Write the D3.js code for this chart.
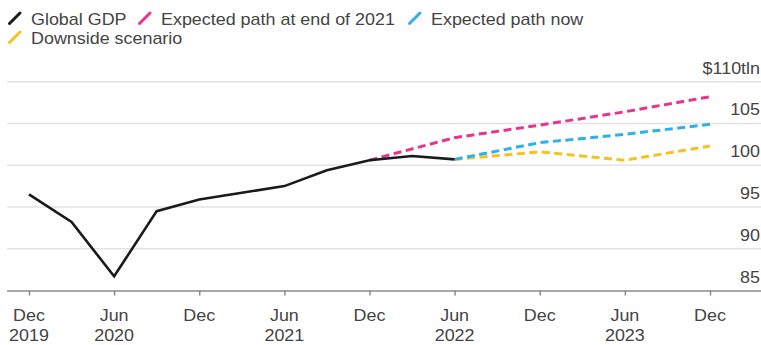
<!DOCTYPE html>
<html>
<head>
<meta charset="utf-8">
<script src="https://cdn.jsdelivr.net/npm/d3@7"></script>
<style>
  html, body { margin: 0; padding: 0; background: #fff; }
  svg { display: block; font-family: "Liberation Sans", Arial, sans-serif; }
</style>
</head>
<body>
<svg id="chart" width="761" height="345"></svg>
<script>
// Quarter index 0 = Dec 2019
const gdpQuarters = [0, 1, 2, 3, 4, 5, 6, 7, 8, 9, 10];
const gdpValues = [96.5, 93.2, 86.7, 94.5, 95.9, 96.7, 97.5, 99.4, 100.6, 101.1, 100.7];

const endOf2021Quarters = [8, 10, 12, 14, 16];
const endOf2021Values = [100.6, 103.3, 104.8, 106.4, 108.2];

const nowQuarters = [10, 12, 14, 16];
const nowValues = [100.7, 102.7, 103.7, 104.9];

const downsideQuarters = [10, 12, 14, 16];
const downsideValues = [100.7, 101.6, 100.6, 102.3];

const tickQuarters = [0, 2, 4, 6, 8, 10, 12, 14, 16];
const tickMonths = ["Dec", "Jun", "Dec", "Jun", "Dec", "Jun", "Dec", "Jun", "Dec"];
const tickYears = ["2019", "2020", "", "2021", "", "2022", "", "2023", ""];

const yTicks = [85, 90, 95, 100, 105, 110];
const yUnit = "$110tln";

const legendItems = [
  { name: "Global GDP", color: "#1a1a1a" },
  { name: "Expected path at end of 2021", color: "#e8338f" },
  { name: "Expected path now", color: "#2eb0ea" },
  { name: "Downside scenario", color: "#f5c21f" }
];

const svg = d3.select("#chart");

const x = d3.scaleLinear().domain([0, 16]).range([29, 710]);
const y = d3.scaleLinear().domain([85, 110]).range([290.5, 81.7]);

const textColor = "#444";
const fontSize = 16;
const stretch = 1.12;

// gridlines
svg.append("g")
  .selectAll("line")
  .data(yTicks.filter(v => v > 85))
  .join("line")
  .attr("x1", 7).attr("x2", 761)
  .attr("y1", d => y(d)).attr("y2", d => y(d))
  .attr("stroke", "#e3e3e3")
  .attr("stroke-width", 1.5);

// right-hand value labels sit just above their gridlines
svg.append("g")
  .selectAll("text")
  .data(yTicks)
  .join("text")
  .attr("transform", d => `translate(760,${y(d) - 8}) scale(${stretch},1)`)
  .attr("text-anchor", "end")
  .attr("font-size", fontSize)
  .attr("fill", textColor)
  .text(d => d === 110 ? yUnit : d);

// bottom axis
const xAxis = d3.axisBottom(x)
  .tickValues(tickQuarters)
  .tickSize(5)
  .tickFormat("");
const axisG = svg.append("g")
  .attr("transform", `translate(0,${y(85)})`)
  .call(xAxis);
axisG.select(".domain").attr("d", `M7,0.5H761`).attr("stroke", "#8a8a8a").attr("stroke-width", 1.5);
axisG.selectAll(".tick line").attr("stroke", "#8a8a8a").attr("stroke-width", 1.5);

const tickLabels = svg.append("g")
  .selectAll("g")
  .data(tickQuarters)
  .join("g")
  .attr("transform", d => `translate(${x(d)},0) scale(${stretch},1)`);
tickLabels.append("text")
  .attr("y", 321.5)
  .attr("text-anchor", "middle")
  .attr("font-size", fontSize)
  .attr("fill", textColor)
  .text((d, i) => tickMonths[i]);
tickLabels.append("text")
  .attr("y", 341.5)
  .attr("text-anchor", "middle")
  .attr("font-size", fontSize)
  .attr("fill", textColor)
  .text((d, i) => tickYears[i]);

// series
const line = d3.line().x(d => x(d[0])).y(d => y(d[1]));
const zip = (a, b) => a.map((q, i) => [q, b[i]]);

function drawDashed(qs, vs, color) {
  svg.append("path")
    .datum(zip(qs, vs))
    .attr("d", line)
    .attr("fill", "none")
    .attr("stroke", color)
    .attr("stroke-width", 3)
    .attr("stroke-dasharray", "8,4.5");
}
drawDashed(endOf2021Quarters, endOf2021Values, legendItems[1].color);
drawDashed(downsideQuarters, downsideValues, legendItems[3].color);
drawDashed(nowQuarters, nowValues, legendItems[2].color);

svg.append("path")
  .datum(zip(gdpQuarters, gdpValues))
  .attr("d", line)
  .attr("fill", "none")
  .attr("stroke", legendItems[0].color)
  .attr("stroke-width", 2.6)
  .attr("stroke-linejoin", "miter");

// legend
const legendPos = [
  { x: 8, y: 25 },
  { x: 138, y: 25 },
  { x: 408, y: 25 },
  { x: 8, y: 44 }
];
const lg = svg.append("g")
  .selectAll("g")
  .data(legendItems)
  .join("g")
  .attr("transform", (d, i) => `translate(${legendPos[i].x},${legendPos[i].y})`);
lg.append("line")
  .attr("x1", 1.5).attr("y1", -1.5)
  .attr("x2", 12).attr("y2", -12)
  .attr("stroke", d => d.color)
  .attr("stroke-width", 3)
  .attr("stroke-linecap", "round");
lg.append("text")
  .attr("transform", `translate(23,0) scale(${stretch},1)`)
  .attr("font-size", fontSize)
  .attr("fill", textColor)
  .text(d => d.name);
</script>
</body>
</html>
